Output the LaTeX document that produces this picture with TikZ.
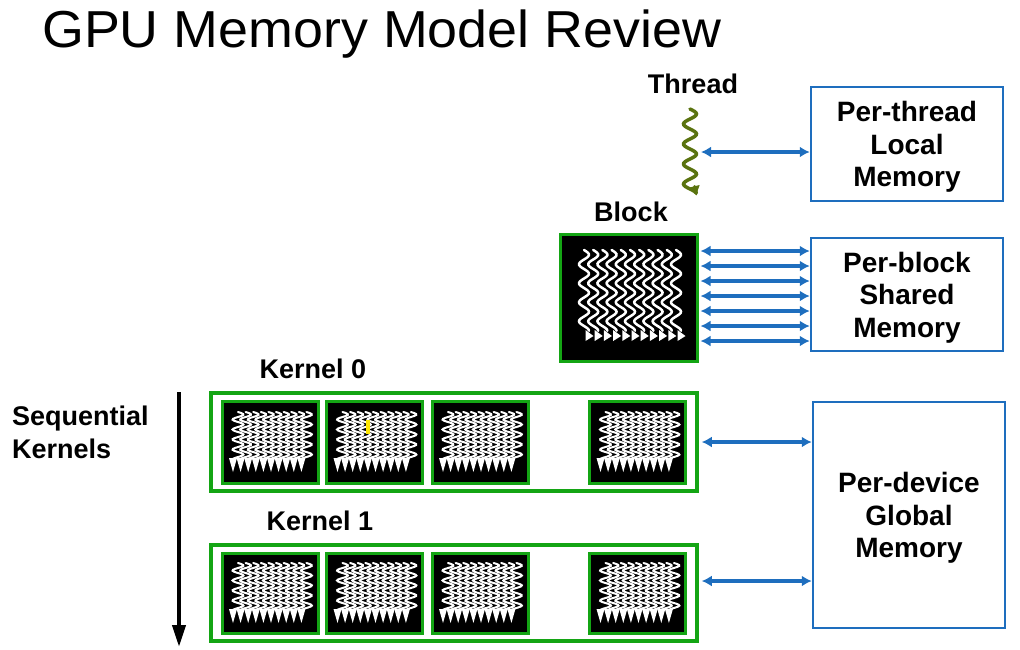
\documentclass[tikz,border=0pt]{standalone}
\usepackage{fontspec}
\setmainfont{Liberation Sans}
\usetikzlibrary{arrows.meta}
\definecolor{memblue}{RGB}{30,110,190}
\definecolor{blkgreen}{RGB}{20,165,20}
\definecolor{thrgreen}{RGB}{90,115,15}
\newcommand\bigwaves[2]{%
  \foreach \i in {0,...,10}{%
    \pgfmathsetmacro\xx{#1+\i*9.2}
    \draw[white, line width=2.5pt, line cap=round]
      plot[smooth, samples=60, domain=0:80.75] ({\xx+5*sin(\x*18.947)},{#2+\x});
    \fill[white] ({\xx+1.5},{#2+80}) -- ({\xx+1.5},{#2+91}) -- ({\xx+9.5},{#2+86}) -- cycle;
  }}
\newcommand\smallwaves[2]{%
  \foreach \i in {0,...,9}{%
    \pgfmathsetmacro\xx{#1-32+\i*7.6}
    \draw[white, line width=2pt, line cap=round]
      plot[smooth, samples=50, domain=0:47.5] ({\xx+5.5*sin(\x*36)},{#2-30+\x});
    \fill[white] ({\xx-9},{#2+16}) -- ({\xx-1},{#2+16}) -- ({\xx-5},{#2+30}) -- cycle;
  }}
\newcommand\topstrut{\rule{0pt}{26.5pt}}
\tikzset{
  membox/.style={draw=memblue, line width=2.5pt, fill=white, align=center,
    font=\bfseries\fontsize{28}{32.5}\selectfont, inner sep=0pt},
  blockbox/.style={draw=blkgreen, line width=3pt, fill=black, inner sep=0pt},
  kernbox/.style={draw=blkgreen, line width=3.5pt, fill=white, inner sep=0pt,
    minimum width=486pt},
  lbl/.style={font=\bfseries\fontsize{27}{31}\selectfont, inner sep=0pt},
  memarrow/.style={memblue, line width=3.6pt, {Latex[length=10pt,width=11pt]}-{Latex[length=10pt,width=11pt]}},
}
\begin{document}
\begin{tikzpicture}[x=1pt,y=-1pt]
\useasboundingbox (0,0) rectangle (1020,649);
% title
\node[anchor=base west, inner sep=0pt, font=\fontsize{52}{52}\selectfont] (title) at (42,47) {\scalebox{1.035}[1]{GPU Memory Model Review}};
% memory boxes
\node[membox, minimum width=192pt, minimum height=114pt] (local) at (907,144) {\topstrut Per-thread\\Local\\Memory};
\node[membox, minimum width=192pt, minimum height=113pt] (shared) at (907,294.5) {\topstrut Per-block\\Shared\\Memory};
\node[membox, minimum width=192pt, minimum height=226pt] (global) at (909,515) {\topstrut Per-device\\Global\\Memory};
% thread
\node[lbl] (thrlab) at (693,84) {Thread};
\draw[thrgreen, line width=3.5pt, line cap=round, -{Triangle[width=10pt,length=8pt]}]
  plot[smooth, samples=70, domain=0:85] ({690+6.5*sin(\x*18)},{109+\x});
\coordinate (thr) at (695,152);
\draw[memarrow, shorten <=6pt] (thr) -- (local.west |- thr);
% block
\node[lbl] (blklab) at (631,212) {Block};
\node[blockbox, minimum width=137pt, minimum height=127pt] (block) at (628.5,297.5) {};
\bigwaves{584}{250}
\foreach \k in {0,...,6}{%
  \draw[memarrow, shorten <=2pt] (block.east |- 0,{251+\k*15}) -- (shared.west |- 0,{251+\k*15});
}
% kernel 0
\node[lbl] (k0lab) at (313,369) {Kernel 0};
\node[kernbox, minimum height=98pt] (k0) at (454,442) {};
\foreach \cx/\nm in {270/a,374.5/b,480/c,637.5/d}{%
  \node[blockbox, minimum width=96pt, minimum height=82pt] (k0\nm) at (\cx,442) {};
  \smallwaves{\cx}{442}
}
\draw[yellow!90!orange, line width=3.5pt] (368,420) -- (368,434);
\draw[memarrow] ([xshift=3pt]k0.east) -- (global.west |- k0.east);
% kernel 1
\node[lbl] (k1lab) at (320,521) {Kernel 1};
\node[kernbox, minimum height=96pt] (k1) at (454,593) {};
\foreach \cx/\nm in {270/a,374.5/b,480/c,637.5/d}{%
  \node[blockbox, minimum width=96pt, minimum height=80pt] (k1\nm) at (\cx,593) {};
  \smallwaves{\cx}{593}
}
\draw[memarrow] ([xshift=3pt]k1.east |- 0,581) -- (global.west |- 0,581);
% sequential
\node[lbl, align=left, anchor=west, font=\bfseries\fontsize{27}{33}\selectfont] (seqlab) at (12,432) {Sequential\\Kernels};
\coordinate (seqtop) at (179,392);
\coordinate (seqbot) at (179,647);
\draw[black, line width=4pt, -{Triangle[width=13pt,length=22pt]}] (seqtop) -- (seqbot);
\end{tikzpicture}
\end{document}
